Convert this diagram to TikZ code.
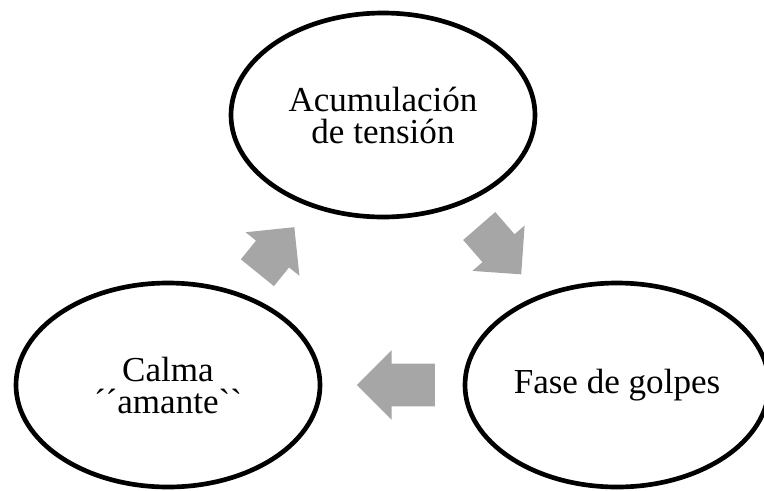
\documentclass[tikz,border=0pt]{standalone}
\usepackage{fontspec}
\setmainfont{Liberation Serif}[Ligatures=TeXOff]
\usetikzlibrary{shapes.geometric, shapes.arrows, calc}
\definecolor{arrowgray}{gray}{0.65}
\tikzset{
	phase/.style={
		ellipse,
		draw,
		line width=3.5pt,
		inner sep=0pt,
		minimum width=228pt,
		minimum height=153pt,
		align=center,
		font=\fontsize{26.3}{24}\selectfont
	},
	blockarrow/.style={
		single arrow,
		fill=arrowgray,
		anchor=tail,
		inner xsep=0pt,
		inner ysep=15.75pt,
		minimum height=#1,
		single arrow head extend=10pt
	}
}

\begin{document}
\begin{tikzpicture}[x=0.75pt, y=-0.75pt]
\useasboundingbox (0,0) rectangle (764,490);
\node[phase] (tension) at (383, 115) {Acumulación\\de tensión};
\node[phase] (golpes) at (617, 385) {Fase de golpes};
\node[phase] (calma) at (168, 385) {Calma\\´´amante``};

% the cycle
\node[blockarrow=44pt, rotate=51] (up) at ($(calma)!0.5!(tension)!22pt!(calma)$) {};
\node[blockarrow=48pt, rotate=-49] (down) at ($(tension)!0.5!(golpes)!24pt!(tension)$) {};
\node[blockarrow=58.5pt, rotate=180] (back) at ($(golpes)!0.5!(calma)!32pt!(golpes)$) {};
\end{tikzpicture}
\end{document}
